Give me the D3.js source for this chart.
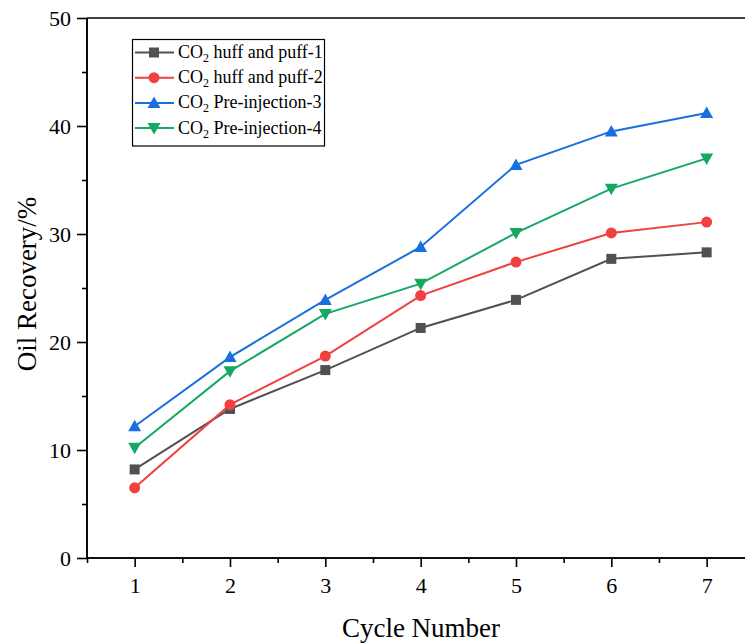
<!DOCTYPE html>
<html><head><meta charset="utf-8">
<script src="https://cdn.jsdelivr.net/npm/d3@7"></script>
<style>body{margin:0;background:#fff}svg{display:block}text{font-family:"Liberation Serif","Times New Roman",serif;fill:#000}</style>
</head><body><svg id="c" width="745" height="644"></svg>
<script>
const cycles = [1,2,3,4,5,6,7];
const huffPuff1 = [8.2,13.8,17.4,21.3,23.9,27.7,28.3];
const huffPuff2 = [6.5,14.2,18.7,24.3,27.4,30.1,31.1];
const preInj3 = [12.2,18.6,23.9,28.8,36.4,39.5,41.2];
const preInj4 = [10.2,17.3,22.6,25.4,30.1,34.2,37.0];
const seriesNames = ["huff and puff-1","huff and puff-2","Pre-injection-3","Pre-injection-4"];
const yTicks = [0,10,20,30,40,50];

const series = [
  {name:seriesNames[0], values:huffPuff1, color:"#515151", sym:"square"},
  {name:seriesNames[1], values:huffPuff2, color:"#F14040", sym:"circle"},
  {name:seriesNames[2], values:preInj3, color:"#1A6FDF", sym:"up"},
  {name:seriesNames[3], values:preInj4, color:"#15A862", sym:"down"}
];

const svg = d3.select("#c");
const SERIF = '"Liberation Serif","Times New Roman",serif';
const L=87, T=18, B=558;
const x = d3.scaleLinear().domain([0.5,7.5]).range([L, L+95.33*7]);
const y = d3.scaleLinear().domain([0,50]).range([B,T]);

// top spine
svg.append("line").attr("x1",L).attr("x2",x(7.5)).attr("y1",T).attr("y2",T).attr("stroke","#000").attr("stroke-width",1.6);

// y axis
const ya = svg.append("g").attr("transform",`translate(${L},0)`)
  .call(d3.axisLeft(y).tickValues(yTicks).tickSize(10).tickPadding(6).tickFormat(d3.format("d")));
ya.append("g").call(d3.axisLeft(y).tickValues([5,15,25,35,45]).tickSize(5).tickFormat(""));
// x axis
const xa = svg.append("g").attr("transform",`translate(0,${B})`)
  .call(d3.axisBottom(x).tickValues(cycles).tickSize(9).tickPadding(10).tickFormat(d3.format("d")));
xa.append("g").call(d3.axisBottom(x).tickValues([0.5,1.5,2.5,3.5,4.5,5.5,6.5,7.5]).tickSize(5).tickFormat(""));
svg.selectAll(".domain").attr("stroke","#000").attr("stroke-width",1.6);
svg.selectAll(".tick line").attr("stroke","#000").attr("stroke-width",1.6);
svg.selectAll(".tick text").style("font-size","22px").style("font-family",SERIF);
xa.selectAll(".domain").attr("d",`M${L},0H${x(7.5)}`);
ya.selectAll(".domain").attr("d",`M0,${B}V${T}`);

// titles
svg.append("text").attr("x",421).attr("y",637).attr("text-anchor","middle").style("font-size","27px").style("font-family",SERIF).text("Cycle Number");
svg.append("text").attr("transform","translate(36,284) rotate(-90)").attr("text-anchor","middle").style("font-size","27px").style("font-family",SERIF).text("Oil Recovery/%");

function marker(g, sym, color, cx, cy){
  const s=5;
  if(sym==="square") g.append("rect").attr("x",cx-s).attr("y",cy-s).attr("width",2*s).attr("height",2*s).attr("fill",color);
  else if(sym==="circle") g.append("circle").attr("cx",cx).attr("cy",cy).attr("r",5.5).attr("fill",color);
  else if(sym==="up") g.append("path").attr("d",`M${cx},${cy-6.5}L${cx+6.5},${cy+5}L${cx-6.5},${cy+5}Z`).attr("fill",color);
  else g.append("path").attr("d",`M${cx},${cy+6.5}L${cx+6.5},${cy-5}L${cx-6.5},${cy-5}Z`).attr("fill",color);
}

const line = d3.line().x((d,i)=>x(cycles[i])).y(d=>y(d));
series.forEach(s=>{
  svg.append("path").attr("d",line(s.values)).attr("fill","none").attr("stroke",s.color).attr("stroke-width",2);
  const g = svg.append("g");
  s.values.forEach((v,i)=>marker(g,s.sym,s.color,x(cycles[i]),y(v)));
});

// legend
const lg = svg.append("g");
lg.append("rect").attr("x",132.5).attr("y",39.5).attr("width",192).attr("height",106.5).attr("fill","#fff").attr("stroke","#000").attr("stroke-width",1.2);
series.forEach((s,i)=>{
  const cy = 52.5 + i*25.2;
  lg.append("line").attr("x1",135).attr("x2",174).attr("y1",cy).attr("y2",cy).attr("stroke",s.color).attr("stroke-width",2);
  marker(lg,s.sym,s.color,154,cy);
  const t = lg.append("text").attr("x",178).attr("y",cy+5.5).style("font-size","18px").style("font-family",SERIF);
  t.append("tspan").text("CO");
  t.append("tspan").attr("dy",4).style("font-size","12px").text("2");
  t.append("tspan").attr("dy",-4).text(" "+s.name);
});
</script></body></html>
